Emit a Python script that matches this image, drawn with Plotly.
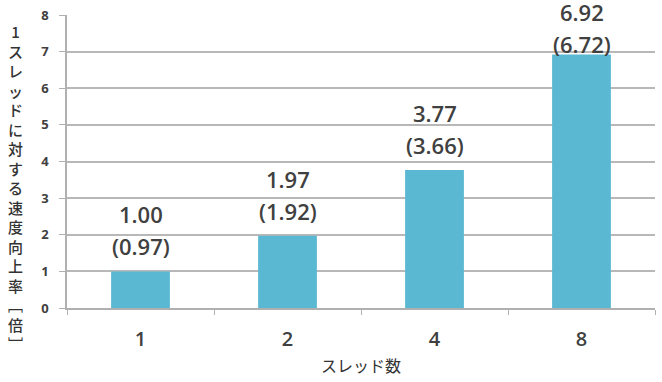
import plotly.graph_objects as go

categories = ["1", "2", "4", "8"]
speedup = [1.00, 1.97, 3.77, 6.92]
speedup_paren = [0.97, 1.92, 3.66, 6.72]
y_ticks = [0, 1, 2, 3, 4, 5, 6, 7, 8]
y_title_chars = ["1", "ス", "レ", "ッ", "ド", "に", "対", "す", "る", "速", "度", "向", "上", "率", "﹇", "倍", "﹈"]
x_title = "スレッド数"

# style: label offsets (px) above bar top; last bar label pushed down to fit
label_shift = [0, 0, 0, -14]

NUM_FONT = "Open Sans, Noto Sans CJK JP, sans-serif"
JP_FONT = "Noto Sans CJK JP, sans-serif"
TXT = "#404040"

fig = go.Figure()
fig.add_trace(go.Bar(
    x=categories, y=speedup,
    marker=dict(color="#5bb8d2", line=dict(width=0)),
    width=0.4,
    hoverinfo="skip",
))

annotations = []
for i, (v, p, s) in enumerate(zip(speedup, speedup_paren, label_shift)):
    annotations.append(dict(x=i, y=v, xref="x", yref="y", text=f"{v:.2f}",
                            showarrow=False, yanchor="middle", yshift=57 + s,
                            font=dict(family=NUM_FONT, size=22, color=TXT, weight=600)))
    annotations.append(dict(x=i, y=v, xref="x", yref="y", text=f"({p:.2f})",
                            showarrow=False, yanchor="middle", yshift=25 + s,
                            font=dict(family=NUM_FONT, size=22, color=TXT, weight=600)))

annotations.append(dict(x=0, y=0.41, xref="paper", yref="paper", xanchor="center",
                        yanchor="middle", xshift=-52, showarrow=False,
                        text="<br>".join(y_title_chars),
                        font=dict(family=JP_FONT, size=15, color="#333333", weight=500)))

fig.update_layout(
    width=662, height=382,
    margin=dict(l=67, r=7, t=15, b=74),
    paper_bgcolor="white", plot_bgcolor="white",
    showlegend=False,
    annotations=annotations,
    xaxis=dict(
        type="category", categoryorder="array", categoryarray=categories,
        range=[-0.5, 3.5],
        tickson="boundaries", ticks="outside", ticklen=5, tickcolor="#b0b0b0",
        showline=True, linecolor="#b0b0b0", linewidth=1.5,
        showgrid=False,
        tickfont=dict(family=NUM_FONT, size=20, color=TXT, weight=600),
        ticklabelstandoff=12,
        title=dict(text=x_title, font=dict(family=JP_FONT, size=16, color="#333333"), standoff=10),
    ),
    yaxis=dict(
        range=[0, 8], tickvals=y_ticks, ticktext=[str(t) for t in y_ticks],
        ticks="outside", ticklen=6, tickcolor="#b0b0b0",
        showline=True, linecolor="#b0b0b0", linewidth=1.5,
        showgrid=True, gridcolor="#b8b8b8", gridwidth=1.5,
        zeroline=False,
        tickfont=dict(family=NUM_FONT, size=13, color=TXT, weight="bold"),
        ticklabelstandoff=8,
    ),
)

fig.write_html("out.html")
